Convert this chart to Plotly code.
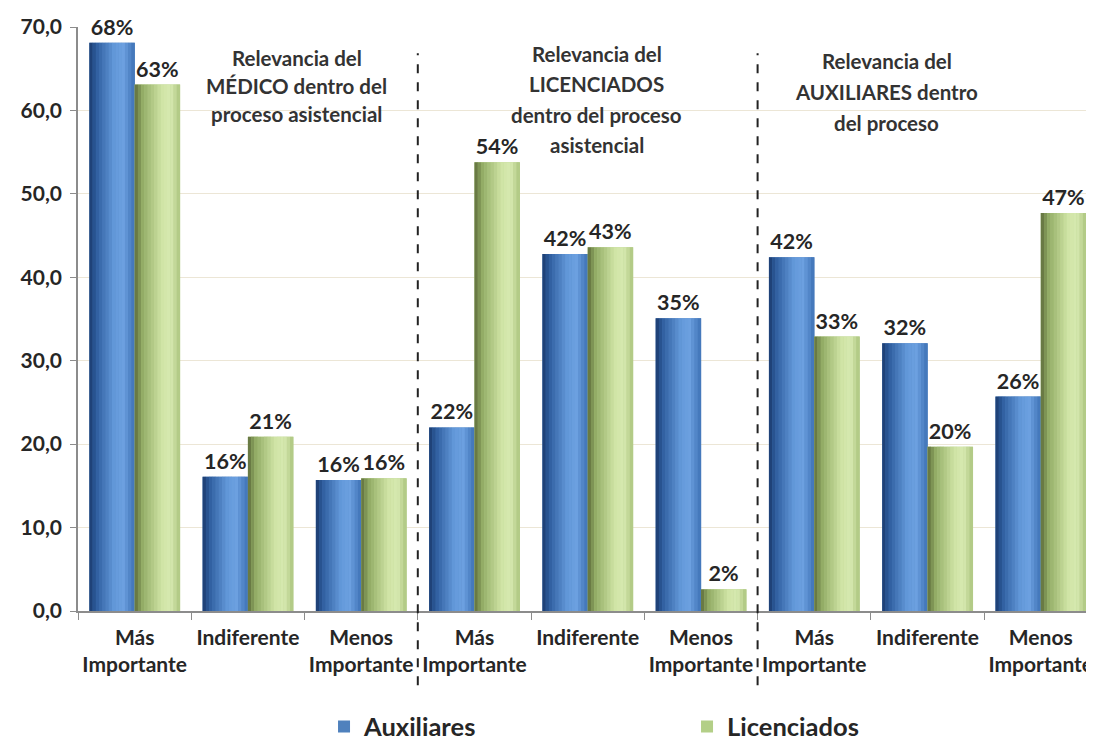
import plotly.graph_objects as go

# ---- data ----
categories = ["Más<br>Importante", "Indiferente", "Menos<br>Importante"] * 3
auxiliares = [68.1, 16.1, 15.7, 22.0, 42.8, 35.1, 42.4, 32.1, 25.7]
licenciados = [63.1, 20.9, 15.9, 53.8, 43.6, 2.6, 32.9, 19.7, 47.7]
aux_labels = ["68%", "16%", "16%", "22%", "42%", "35%", "42%", "32%", "26%"]
lic_labels = ["63%", "21%", "16%", "54%", "43%", "2%", "33%", "20%", "47%"]
group_titles = [
    ["Relevancia del", "MÉDICO dentro del", "proceso asistencial"],
    ["Relevancia del", "LICENCIADOS", "dentro del proceso", "asistencial"],
    ["Relevancia del", "AUXILIARES dentro", "del proceso"],
]
y_ticks = [0, 10, 20, 30, 40, 50, 60, 70]

FONT = "Lato, 'Open Sans', sans-serif"
TXT = "#262626"
xpos = list(range(len(categories)))

def hex2rgb(h):
    h = h.lstrip("#")
    return tuple(int(h[i:i + 2], 16) for i in (0, 2, 4))

def grad(stops, t):
    for i in range(len(stops) - 1):
        p0, c0 = stops[i]
        p1, c1 = stops[i + 1]
        if p0 <= t <= p1:
            f = (t - p0) / (p1 - p0) if p1 > p0 else 0
            a, b = hex2rgb(c0), hex2rgb(c1)
            return "rgb(%d,%d,%d)" % tuple(round(a[j] + (b[j] - a[j]) * f) for j in range(3))
    return stops[-1][1]

blue_stops = [(0, "#1a3a6c"), (0.15, "#2e5d9e"), (0.55, "#6399da"), (0.75, "#6ca0e0"), (1, "#3f72b6")]
green_stops = [(0, "#5f6e3c"), (0.18, "#93ad66"), (0.6, "#d0e4a6"), (0.8, "#d7e9b0"), (1, "#abc57e")]

BW = 0.4
NSTRIP = 14
fig = go.Figure()

series = [
    ("Auxiliares", auxiliares, aux_labels, -BW, "#4f81bd", blue_stops),
    ("Licenciados", licenciados, lic_labels, 0.0, "#b3cf87", green_stops),
]
for name, vals, labels, off, legcol, stops in series:
    fig.add_trace(go.Bar(
        x=xpos, y=vals, name=name, offset=off, width=BW,
        marker=dict(color=legcol, line=dict(width=0)),
        text=labels, textposition="outside", cliponaxis=False,
        textfont=dict(family=FONT, size=21.5, color=TXT, weight="bold"),
        hoverinfo="name+y",
    ))
    w = BW / NSTRIP
    for k in range(NSTRIP):
        fig.add_trace(go.Bar(
            x=xpos, y=vals, offset=off + k * w, width=w * 1.08,
            marker=dict(color=grad(stops, (k + 0.5) / NSTRIP), line=dict(width=0)),
            showlegend=False, hoverinfo="skip",
        ))

# dashed separators between groups
for xs in (2.5, 5.5):
    fig.add_shape(type="line", x0=xs, x1=xs, xref="x", yref="paper",
                  y0=-0.127, y1=0.955, line=dict(color="#222222", width=2, dash="dash"))

# group titles: (x centre in axis units, first-line top in paper units, line step in paper units)
PLOT_H = 584.0
title_layout = [(1.43, 0.971, 28 / PLOT_H), (4.08, 0.978, 30.5 / PLOT_H), (6.64, 0.966, 31 / PLOT_H)]
for lines, (xx, y0, step) in zip(group_titles, title_layout):
    for i, line in enumerate(lines):
        fig.add_annotation(x=xx, y=y0 - i * step, xref="x", yref="paper",
                           text="<b>" + line + "</b>", showarrow=False,
                           yanchor="top", align="center",
                           font=dict(family=FONT, size=20.5, color="#333333"))

fig.update_layout(
    width=1086, height=732,
    margin=dict(l=70, r=0, t=19, b=129),
    paper_bgcolor="white", plot_bgcolor="white",
    barmode="overlay",
    separators=", ",
    font=dict(family=FONT, color=TXT),
    legend=dict(orientation="h", xref="container", yref="container",
                x=0.291, y=0.018, xanchor="left", yanchor="middle",
                entrywidth=318, entrywidthmode="pixels",
                font=dict(family=FONT, size=25.5, color=TXT, weight="bold")),
)
fig.update_yaxes(range=[0, 70], tickvals=y_ticks, tickformat=".1f",
                 showgrid=True, gridcolor="#ece6d6", gridwidth=1,
                 showline=True, linecolor="#8c8c8c", linewidth=1.5,
                 ticks="outside", ticklen=6, tickcolor="#8c8c8c",
                 ticklabelstandoff=4,
                 tickfont=dict(family=FONT, size=21, color=TXT, weight="bold"),
                 zeroline=False)
fig.update_xaxes(range=[-0.5, 8.47], tickvals=xpos, ticktext=categories,
                 showgrid=False, showline=True, linecolor="#8c8c8c", linewidth=1.5,
                 ticks="", zeroline=False, ticklabeloverflow="allow",
                 ticklabelstandoff=7,
                 minor=dict(ticks="outside", tick0=-0.5, dtick=1, ticklen=7, tickcolor="#8c8c8c"),
                 tickfont=dict(family=FONT, size=21, color=TXT, weight="bold"))

fig.write_html("out.html")
